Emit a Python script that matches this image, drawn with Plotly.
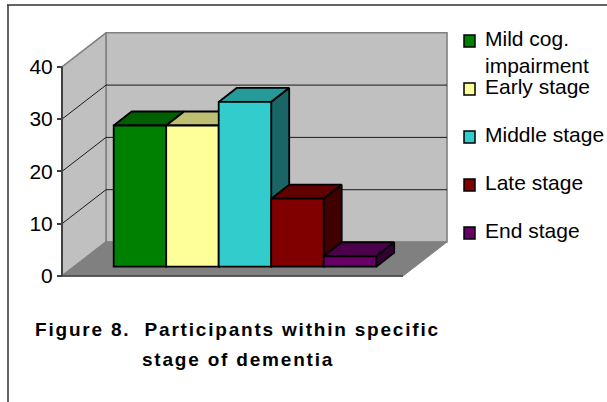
import plotly.graph_objects as go

categories = ["Mild cog.<br>impairment", "Early stage", "Middle stage", "Late stage", "End stage"]
values = [27, 27, 31.5, 13, 2]
colors = ["#008000", "#FFFF99", "#33CCCC", "#800000", "#660066"]
top_colors = ["#006000", "#BFBF73", "#269999", "#600000", "#4C004C"]
side_colors = ["#004000", "#808066", "#1A6666", "#400000", "#330033"]
y_ticks = [0, 10, 20, 30, 40]

W, H = 607, 402
PX_X = 52.5          # pixels per bar
PX_Y = 5.23          # pixels per value unit
X0_PX, Y0_PX = 113.7, 276.0
x_range = [-X0_PX / PX_X, (W - X0_PX) / PX_X]
y_range = [(Y0_PX - H) / PX_Y, Y0_PX / PX_Y]

BASE = 1.78                     # bars stand a little behind the front of the floor
DX, DY = 18 / PX_X, 14 / PX_Y   # bar depth
WX, WY = 44 / PX_X, 34 / PX_Y   # wall depth
FL, FR = (62 - X0_PX) / PX_X, (403 - X0_PX) / PX_X  # floor front corners
YMAX = y_ticks[-1]

fig = go.Figure()


def poly(xs, ys, fill, line="#000000", width=1.8):
    fig.add_trace(go.Scatter(x=xs, y=ys, mode="lines", fill="toself", fillcolor=fill,
                             line=dict(color=line, width=width), hoverinfo="skip",
                             showlegend=False))


def seg(xs, ys, color, width):
    fig.add_trace(go.Scatter(x=xs, y=ys, mode="lines", line=dict(color=color, width=width),
                             hoverinfo="skip", showlegend=False))


# walls and floor
bx0, bx1 = FL + WX, FR + WX
poly([bx0, bx1, bx1, bx0, bx0], [WY, WY, YMAX + WY, YMAX + WY, WY], "#C0C0C0", "#808080", 1.6)
poly([FL, bx0, bx0, FL, FL], [0, WY, YMAX + WY, YMAX, 0], "#C0C0C0", "#808080", 1.6)
poly([FL, FR, bx1, bx0, FL], [0, 0, WY, WY, 0], "#808080", "#808080", 1)

# gridlines
for t in y_ticks[1:-1]:
    seg([FL, bx0, bx1], [t, t + WY, t + WY], "#1a1a1a", 1)
seg([FL, FL], [0, YMAX], "#404040", 2)
seg([FL, FR], [0, 0], "#404040", 1.6)

# bar tops and sides
for i, v in enumerate(values):
    top = BASE + v
    poly([i, i + 1, i + 1 + DX, i + DX, i], [top, top, top + DY, top + DY, top], top_colors[i])
    poly([i + 1, i + 1 + DX, i + 1 + DX, i + 1, i + 1],
         [top, top + DY, BASE + DY, BASE, top], side_colors[i])

# bar fronts, on an overlaid subplot so they sit above every depth face
for i, v in enumerate(values):
    fig.add_trace(go.Bar(x=[i + 0.5], y=[v], base=BASE, width=1, marker=dict(
        color=colors[i], line=dict(color="#000000", width=1.8)),
        name=categories[i].replace("<br>", " "), showlegend=False,
        xaxis="x2", yaxis="y2"))

axis_off = dict(visible=False, fixedrange=True)
fig.update_layout(
    width=W, height=H, margin=dict(l=0, r=0, t=0, b=0), autosize=False,
    paper_bgcolor="#FFFFFF", plot_bgcolor="rgba(0,0,0,0)", showlegend=False,
    font=dict(family="Liberation Sans, Arial, sans-serif", color="#000000"),
    xaxis=dict(range=x_range, **axis_off),
    xaxis2=dict(range=x_range, overlaying="x", **axis_off),
    yaxis=dict(range=y_range, tickvals=y_ticks, showgrid=False, zeroline=False,
               anchor="free", position=62 / W, side="left", ticks="outside", ticklen=5,
               tickwidth=1.5, tickcolor="#404040", showline=False,
               tickfont=dict(size=21), fixedrange=True),
    yaxis2=dict(range=y_range, overlaying="y", **axis_off),
    barmode="overlay",
)

# frame of the picture
fig.add_shape(type="line", xref="paper", yref="paper", x0=7 / W, x1=1, y0=1 - 5 / H, y1=1 - 5 / H,
              line=dict(color="#303030", width=1.5))
fig.add_shape(type="line", xref="paper", yref="paper", x0=8 / W, x1=8 / W, y0=0, y1=1 - 5 / H,
              line=dict(color="#303030", width=1.5))

# legend
for i, c in enumerate(categories):
    cy = 41 + 48 * i
    fig.add_shape(type="rect", xref="paper", yref="paper",
                  x0=464 / W, x1=475 / W, y0=1 - (cy + 6) / H, y1=1 - (cy - 6) / H,
                  fillcolor=colors[i], line=dict(color="#000000", width=1.5))
    fig.add_annotation(text=c, xref="paper", yref="paper", x=483.5 / W, y=1 - (cy - 15) / H,
                       xanchor="left", yanchor="top", showarrow=False, align="left",
                       font=dict(size=21), borderpad=0)

# caption
for txt, py in [("Figure 8.  Participants within specific", 329),
                ("stage of dementia", 359)]:
    fig.add_annotation(text=f'<b><span style="letter-spacing:1.8px">{txt}</span></b>',
                       xref="paper", yref="paper", x=237.5 / W, y=1 - py / H,
                       xanchor="center", yanchor="middle", showarrow=False,
                       font=dict(size=19), borderpad=0)

fig.write_html("out.html", config={"displayModeBar": False},
               post_script="document.body.style.margin='0';document.documentElement.style.overflow='hidden';")
